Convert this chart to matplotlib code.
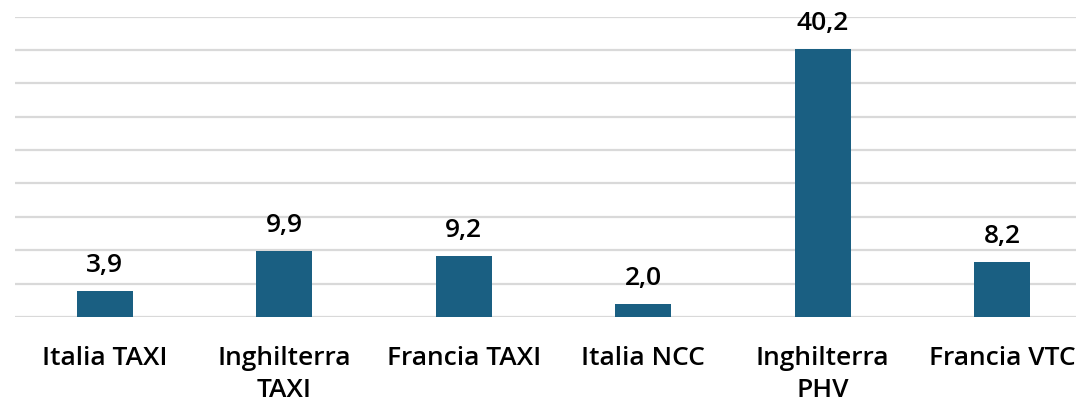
import matplotlib.pyplot as plt

categorie = ["Italia TAXI", "Inghilterra\nTAXI", "Francia TAXI", "Italia NCC", "Inghilterra\nPHV", "Francia VTC"]
valori = [3.9, 9.9, 9.2, 2.0, 40.2, 8.2]
etichette = ["3,9", "9,9", "9,2", "2,0", "40,2", "8,2"]

plt.rcParams['font.family'] = ['Open Sans', 'DejaVu Sans']

fig = plt.figure(figsize=(10.76, 4.02), dpi=100)
ax = fig.add_axes([15 / 1076, 84 / 402, 1077 / 1076, 300.5 / 402])

x = range(len(categorie))
bars = ax.bar(x, valori, width=0.31, color='#1a5f82', zorder=3)

for b, t in zip(bars, etichette):
    ax.annotate(t, (b.get_x() + b.get_width() / 2, b.get_height()),
                xytext=(0, 10), textcoords='offset points',
                ha='center', va='bottom', fontsize=19, fontweight='semibold')

ax.set_xlim(-0.5, 5.5)
ax.set_ylim(0, 45)
ax.set_yticks(range(0, 46, 5))
ax.yaxis.grid(True, color='#d9d9d9', linewidth=1.6, zorder=0)
ax.tick_params(axis='y', left=False, labelleft=False)
ax.set_xticks(list(x))
ax.set_xticklabels(categorie, fontsize=19, fontweight='semibold', linespacing=1.4)
ax.tick_params(axis='x', length=0, pad=20)
for s in ax.spines.values():
    s.set_visible(False)

fig.savefig('out.png', dpi=100)
